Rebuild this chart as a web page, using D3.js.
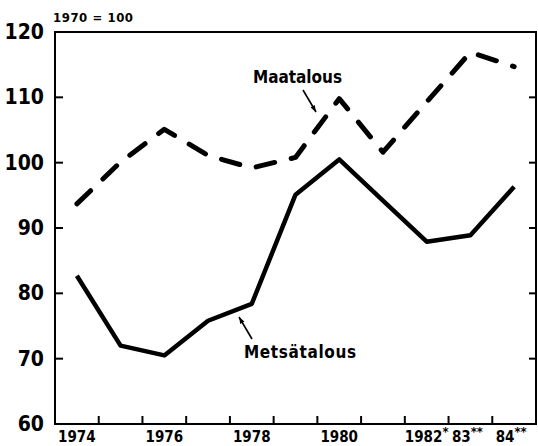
<!DOCTYPE html>
<html><head><meta charset="utf-8">
<script src="https://cdn.jsdelivr.net/npm/d3@7"></script>
<style>
html,body{margin:0;padding:0;background:#fff;}
svg text{font-family:"Liberation Sans Narrow","DejaVu Sans Condensed","Arial Narrow",sans-serif;font-weight:bold;fill:#000;}
</style></head>
<body><svg id="c" width="538" height="446"></svg>
<script>
const years = ["1974","1975","1976","1977","1978","1979","1980","1981","1982","1983","1984"];
const xLabels = [
  {year:"1974", text:"1974", sup:""},
  {year:"1976", text:"1976", sup:""},
  {year:"1978", text:"1978", sup:""},
  {year:"1980", text:"1980", sup:""},
  {year:"1982", text:"1982", sup:"*"},
  {year:"1983", text:"83", sup:"**"},
  {year:"1984", text:"84", sup:"**"}
];
const maatalous   = [93.7, 100.1, 105.1, 101.1, 99.2, 100.8, 109.8, 101.6, 109.3, 116.9, 114.7];
const metsatalous = [82.7, 72.0, 70.5, 75.8, 78.4, 95.1, 100.5, 94.2, 87.9, 88.9, 96.3];
const yTicks = [60,70,80,90,100,110,120];

const svg = d3.select("#c");
const L=55, R=536, T=32, B=424;
const x = d3.scaleBand().domain(years).range([L,R]).padding(0);
const y = d3.scaleLinear().domain([60,120]).range([B,T]);
const cx = d => x(d)+x.bandwidth()/2;

// frame
svg.append("rect").attr("x",L).attr("y",T).attr("width",R-L).attr("height",B-T)
  .attr("fill","none").attr("stroke","#000").attr("stroke-width",2);

// y ticks left & right (inward)
svg.append("g").selectAll("line").data(yTicks.slice(1,-1)).join("line")
  .attr("x1",L).attr("x2",L+8).attr("y1",d=>y(d)).attr("y2",d=>y(d))
  .attr("stroke","#000").attr("stroke-width",2);
svg.append("g").selectAll("line").data(yTicks.slice(1,-1)).join("line")
  .attr("x1",R).attr("x2",R-7).attr("y1",d=>y(d)).attr("y2",d=>y(d))
  .attr("stroke","#000").attr("stroke-width",2);
// y labels
svg.append("g").selectAll("text").data(yTicks).join("text")
  .attr("x",44).attr("y",d=>y(d)+7).attr("text-anchor","end")
  .attr("font-size",21).text(d=>d);

// x ticks at band boundaries
svg.append("g").selectAll("line").data(years.slice(1)).join("line")
  .attr("x1",d=>x(d)).attr("x2",d=>x(d)).attr("y1",B).attr("y2",B-8)
  .attr("stroke","#000").attr("stroke-width",2);

// x labels
const xl = svg.append("g").selectAll("text").data(xLabels).join("text")
  .attr("x",d=>cx(d.year) + (d.sup? (d.text.length>2? 0 : -3):0))
  .attr("y",442).attr("text-anchor","middle").attr("font-size",15);
xl.append("tspan").text(d=>d.text);
xl.append("tspan").attr("dy",-6).attr("font-size",13).text(d=>d.sup);

// base label
svg.append("text").attr("x",53).attr("y",22).attr("font-size",13)
  .attr("textLength",80).attr("lengthAdjust","spacing").text("1970 = 100");

// lines
const line = d3.line().x((d,i)=>cx(years[i])).y(d=>y(d));
svg.append("path").datum(maatalous).attr("d",line).attr("fill","none")
  .attr("stroke","#000").attr("stroke-width",5).attr("stroke-linecap","round")
  .attr("stroke-linejoin","round").attr("stroke-dasharray","19 17");
svg.append("path").datum(metsatalous).attr("d",line).attr("fill","none")
  .attr("stroke","#000").attr("stroke-width",4.5).attr("stroke-linejoin","round");

// annotations
svg.append("text").attr("x",253).attr("y",83).attr("font-size",17)
  .attr("textLength",89).attr("lengthAdjust","spacing").text("Maatalous");
svg.append("text").attr("x",244).attr("y",358).attr("font-size",17)
  .attr("textLength",112).attr("lengthAdjust","spacing").text("Metsätalous");

function arrow(x1,y1,x2,y2){
  svg.append("line").attr("x1",x1).attr("y1",y1).attr("x2",x2).attr("y2",y2)
    .attr("stroke","#000").attr("stroke-width",1.6);
  const a=Math.atan2(y2-y1,x2-x1), s=7, w=0.35;
  const p=[[x2,y2],[x2-s*Math.cos(a-w),y2-s*Math.sin(a-w)],[x2-s*Math.cos(a+w),y2-s*Math.sin(a+w)]];
  svg.append("path").attr("d","M"+p.map(q=>q.join(",")).join("L")+"Z").attr("fill","#000");
}
arrow(303,90,316,112);
arrow(252,339,239,317);
</script></body></html>
